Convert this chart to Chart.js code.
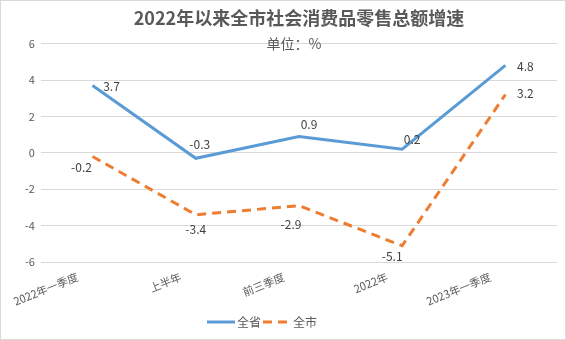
<!DOCTYPE html>
<html>
<head>
<meta charset="utf-8">
<script src="https://cdn.jsdelivr.net/npm/chart.js@4/dist/chart.umd.min.js"></script>
<style>
  html, body { margin: 0; padding: 0; background: #fff; }
  #wrap { width: 566px; height: 340px; position: relative; }
</style>
</head>
<body>
<div id="wrap"><canvas id="grafico"></canvas></div>
<script>
// datos de la gráfica
const categorias = ['2022年一季度', '上半年', '前三季度', '2022年', '2023年一季度'];
const valoresProvincia = [3.7, -0.3, 0.9, 0.2, 4.8];
const valoresCiudad = [-0.2, -3.4, -2.9, -5.1, 3.2];
const nombresSeries = ['全省', '全市'];
const tituloTexto = '2022年以来全市社会消费品零售总额增速';
const unidadTexto = '单位：%';

// desplazamiento de cada etiqueta respecto a su punto (px)
const desplazaProvincia = [[19, 1], [4, -14], [10, -12], [10, -10], [20, 1]];
const desplazaCiudad = [[-11, 11], [0, 15], [-8, 19], [-10, 11], [20, -1]];

const fuente = '"Noto Sans CJK SC", "Noto Sans", sans-serif';
const gris = '#595959';

// fondo blanco y marco fino alrededor
const pluginFondo = {
    id: 'fondo',
    beforeDraw(chart) {
        const c = chart.ctx;
        c.save();
        c.fillStyle = '#fff';
        c.fillRect(0, 0, chart.width, chart.height);
        c.strokeStyle = '#d9d9d9';
        c.lineWidth = 1;
        c.strokeRect(0.5, 0.5, chart.width - 1, chart.height - 1);
        c.restore();
    }
};

// subtítulo con la unidad, pegado a la primera línea de la rejilla
const pluginUnidad = {
    id: 'unidad',
    afterDraw(chart) {
        const c = chart.ctx;
        const area = chart.chartArea;
        c.save();
        c.font = '14px ' + fuente;
        c.fillStyle = gris;
        c.textAlign = 'center';
        c.textBaseline = 'middle';
        c.fillText(unidadTexto, (area.left + area.right) / 2 - 5, area.top);
        c.restore();
    }
};

// etiquetas con el valor de cada punto
const pluginEtiquetas = {
    id: 'etiquetas',
    afterDatasetsDraw(chart) {
        const c = chart.ctx;
        const desplaza = [desplazaProvincia, desplazaCiudad];
        c.save();
        c.font = '12px ' + fuente;
        c.fillStyle = '#404040';
        c.textAlign = 'center';
        c.textBaseline = 'middle';
        chart.data.datasets.forEach(function (ds, i) {
            const meta = chart.getDatasetMeta(i);
            meta.data.forEach(function (p, j) {
                const d = desplaza[i][j];
                c.fillText(ds.data[j].toFixed(1), p.x + d[0], p.y + d[1]);
            });
        });
        c.restore();
    }
};

// leyenda propia: trazo corto de cada serie y su nombre, muy juntos
const pluginLeyenda = {
    id: 'leyendaPropia',
    afterDraw(chart) {
        const c = chart.ctx;
        const y = chart.height - 18;
        let x = chart.width / 2 - 76;
        c.save();
        c.font = '12px ' + fuente;
        c.textBaseline = 'middle';
        c.textAlign = 'left';
        chart.data.datasets.forEach(function (ds) {
            c.strokeStyle = ds.borderColor;
            c.lineWidth = ds.borderWidth;
            c.setLineDash(ds.borderDash || []);
            c.beginPath();
            c.moveTo(x, y);
            c.lineTo(x + 28, y);
            c.stroke();
            c.fillStyle = gris;
            c.fillText(ds.label, x + 30, y);
            x += 30 + c.measureText(ds.label).width + 2;
        });
        c.restore();
    }
};

new Chart(document.getElementById('grafico'), {
    type: 'line',
    data: {
        labels: categorias,
        datasets: [{
            label: nombresSeries[0],
            data: valoresProvincia,
            borderColor: '#5b9bd5',
            backgroundColor: '#5b9bd5',
            borderWidth: 3,
            pointRadius: 0,
            tension: 0,
            fill: false
        }, {
            label: nombresSeries[1],
            data: valoresCiudad,
            borderColor: '#ed7d31',
            backgroundColor: '#ed7d31',
            borderWidth: 3,
            borderDash: [9, 6],
            pointRadius: 0,
            tension: 0,
            fill: false
        }]
    },
    options: {
        responsive: true,
        maintainAspectRatio: false,
        animation: false,
        layout: {
            padding: { left: 19, right: 9, top: 0, bottom: 24 }
        },
        plugins: {
            title: {
                display: true,
                text: tituloTexto,
                fullSize: false,
                color: gris,
                font: { family: fuente, size: 18, weight: 'bold' },
                padding: { top: 7, bottom: 15 }
            },
            legend: { display: false },
            tooltip: { enabled: false }
        },
        scales: {
            x: {
                offset: true,
                grid: { display: false, drawTicks: false },
                border: { display: false },
                ticks: {
                    color: gris,
                    font: { family: fuente, size: 11 },
                    minRotation: 22,
                    maxRotation: 22,
                    labelOffset: -15,
                    padding: 8
                }
            },
            y: {
                min: -6,
                max: 6,
                grid: { color: '#d9d9d9', drawTicks: false },
                border: { display: false },
                ticks: {
                    stepSize: 2,
                    color: gris,
                    font: { family: fuente, size: 11 },
                    padding: 6
                }
            }
        }
    },
    plugins: [pluginFondo, pluginUnidad, pluginEtiquetas, pluginLeyenda]
});
</script>
</body>
</html>
